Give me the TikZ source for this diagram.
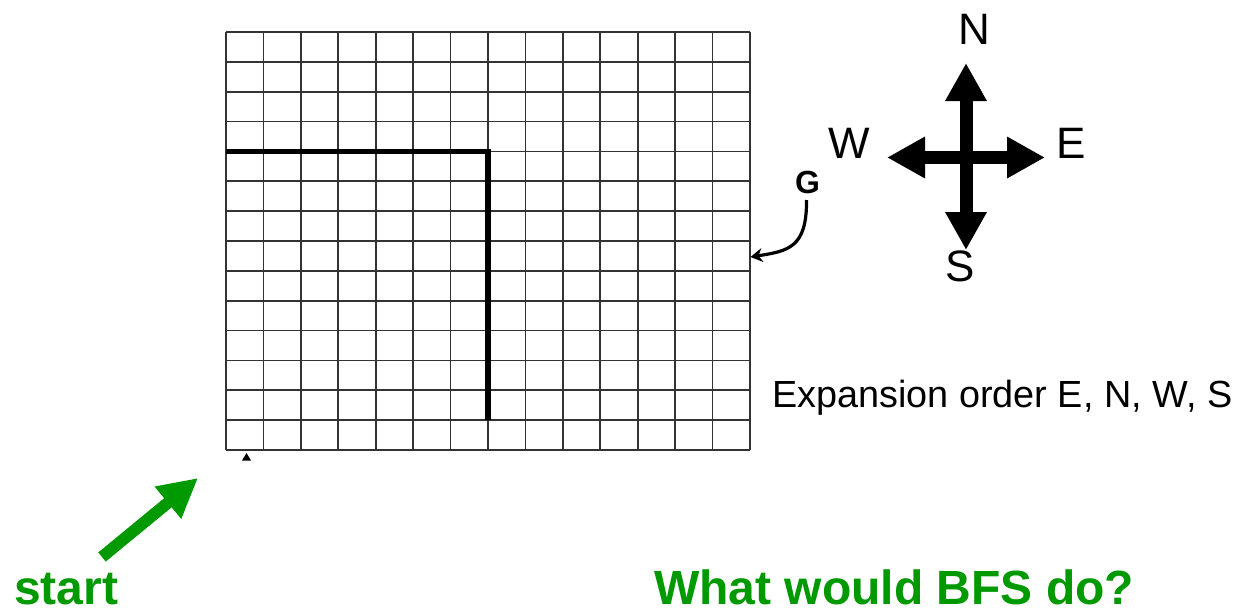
\documentclass[tikz,border=0pt]{standalone}
\usepackage{fontspec}
\setmainfont{Liberation Sans}
\usetikzlibrary{arrows.meta}
\definecolor{bfsgreen}{RGB}{0,153,0}
\tikzset{
  gridline/.style={line width=1.7pt, draw=black!80},
  wall/.style={line width=5.6pt, draw=black, line cap=butt},
  compassarrow/.style={line width=13pt, -{Triangle[width=39pt,length=38pt]}, draw=black},
  greenarrow/.style={line width=11.8pt, draw=bfsgreen, -{Triangle[width=39pt,length=39pt]}},
  compasslabel/.style={inner sep=0pt, anchor=base, font=\fontsize{44}{48}\selectfont},
  bigtext/.style={inner sep=0pt, anchor=base west, text=bfsgreen, font=\bfseries\fontsize{48}{50}\selectfont},
}
\begin{document}
\begin{tikzpicture}[x=1pt,y=-1pt]
\useasboundingbox (0,0) rectangle (1245,610);
% grid
\foreach \i in {0,...,14} {
  \draw[gridline] ({226+\i*524/14},32) -- ({226+\i*524/14},450);
  \draw[gridline] (226,{32+\i*418/14}) -- (750,{32+\i*418/14});
}
% walls
\coordinate (w1) at (226,{32+4*418/14});
\coordinate (w2) at ({226+7*524/14},{32+4*418/14});
\coordinate (w3) at ({226+7*524/14},{32+13*418/14});
\draw[wall] (w1) -- ([xshift=2.8pt]w2);
\draw[wall] (w2) -- (w3);
% small marker below grid
\fill (246.5,453) -- (251,460.5) -- (242,460.5) -- cycle;
% goal
\node[inner sep=0pt, anchor=base, font=\bfseries\fontsize{32}{34}\selectfont] (G) at (807.5,193.5) {G};
\coordinate (gstart) at (806.5,200);
\coordinate (gend) at (750.5,257);
\draw[line width=3.2pt, -{Stealth[width=14pt,length=12pt]}] (gstart) .. controls (807,248) and (788,251) .. (gend);
% compass
\coordinate (cc) at (966,157.5);
\coordinate (cn) at (966,63);
\coordinate (cs) at (966,250);
\coordinate (cw) at (887,157.5);
\coordinate (ce) at (1045,157.5);
\draw[compassarrow] (cc) -- (cn);
\draw[compassarrow] (cc) -- (cs);
\draw[compassarrow] (cc) -- (cw);
\draw[compassarrow] (cc) -- (ce);
\node[compasslabel] (N) at (974,45) {N};
\node[compasslabel] (W) at (849,158) {W};
\node[compasslabel] (E) at (1071,158) {E};
\node[compasslabel] (S) at (960,281.5) {S};
% texts
\node[inner sep=0pt, anchor=base west, font=\fontsize{37.8}{40}\selectfont] (order) at (772,407) {Expansion order E, N, W, S};
\node[bigtext] (start) at (14,604) {start};
\node[bigtext] (question) at (654,604) {What would BFS do?};
% start arrow
\coordinate (sttail) at (102,557);
\coordinate (sttip) at (198,478);
\draw[greenarrow] (sttail) -- (sttip);
\end{tikzpicture}
\end{document}
